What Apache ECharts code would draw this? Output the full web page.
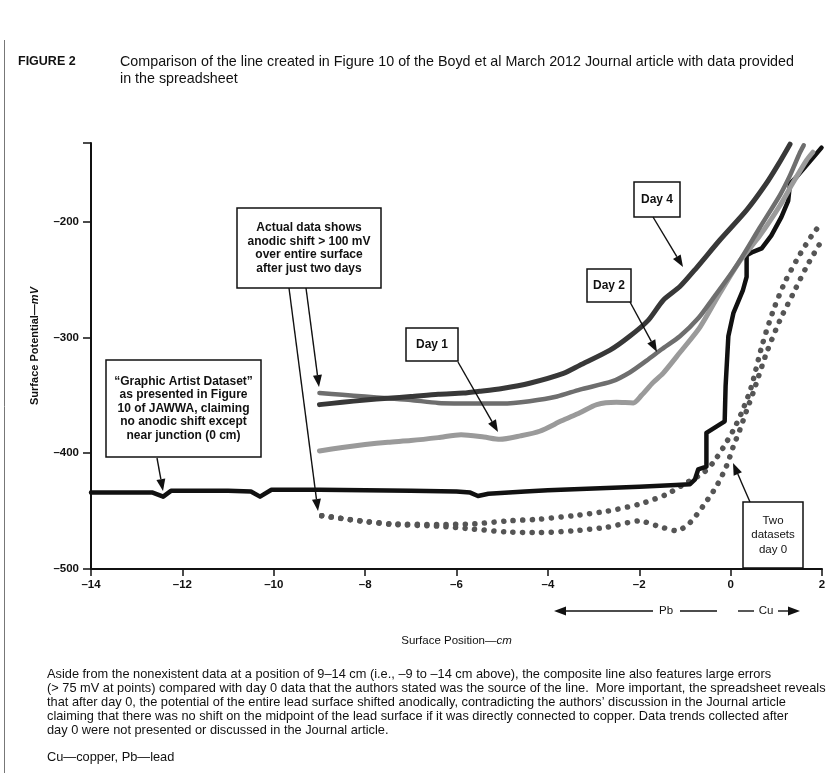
<!DOCTYPE html>
<html>
<head>
<meta charset="utf-8">
<script src="https://cdn.jsdelivr.net/npm/echarts@6/dist/echarts.min.js"></script>
<style>
html,body{margin:0;padding:0;background:#fff;}
#c{width:836px;height:773px;}
</style>
</head>
<body>
<div id="c"></div>
<script>
// ---- data (x = surface position, cm ; y = surface potential, mV) ----
const xTickValues = [-14, -12, -10, -8, -6, -4, -2, 0, 2];
const yTickValues = [-500, -400, -300, -200];

const graphicArtist = [[-14,-434],[-13,-434],[-12.65,-434],[-12.42,-437.5],[-12.25,-432.5],[-11,-432.5],[-10.5,-433],[-10.3,-437.5],[-10.05,-431.5],[-9,-431.5],[-8,-432],[-7,-432.5],[-6,-433],[-5.7,-434],[-5.53,-437],[-5.3,-435],[-4.5,-433],[-4,-432],[-3,-430.5],[-2,-429],[-1.2,-427.5],[-0.89,-426.8],[-0.78,-422.5],[-0.71,-414],[-0.53,-411.6],[-0.53,-382.4],[-0.56,-381],[-0.13,-372.4],[-0.11,-342],[-0.05,-299],[0.06,-279],[0.27,-259],[0.35,-247.6],[0.35,-229],[0.49,-226],[0.68,-223],[0.89,-212],[1.11,-196],[1.26,-182],[1.30,-167],[1.44,-161.5],[1.81,-144.4],[1.99,-136]];

const day4 = [[-9,-358],[-8.5,-356],[-8,-354],[-7.5,-352.5],[-7,-351],[-6.4,-349],[-5.85,-348],[-5.5,-346.5],[-5,-344],[-4.4,-339.5],[-3.66,-331],[-3.3,-324],[-2.64,-311],[-2.21,-299],[-1.8,-285],[-1.48,-268],[-1.11,-256],[-0.75,-240],[-0.24,-216],[0.35,-190],[0.78,-167],[1.05,-150],[1.3,-133]];

const day2 = [[-9,-348],[-8.5,-349.5],[-8,-351],[-7.5,-352.5],[-7,-354],[-6.4,-356.5],[-5.5,-357],[-5,-357],[-4.4,-355],[-3.8,-351],[-3.3,-345],[-2.6,-338],[-2.2,-330],[-1.84,-320],[-1.5,-310],[-1.11,-299],[-0.7,-283],[-0.38,-266],[0.13,-238],[0.64,-205],[1.08,-177],[1.3,-160],[1.52,-140],[1.6,-134]];

const day1 = [[-9,-398],[-8.5,-395],[-8,-392.5],[-7.5,-390.5],[-7,-389],[-6.4,-386.5],[-5.9,-384],[-5.4,-386],[-5.05,-388],[-4.6,-385],[-4.18,-381],[-3.7,-372],[-3.3,-365],[-2.93,-358],[-2.5,-356],[-2.13,-356.5],[-1.95,-350],[-1.7,-339],[-1.48,-331],[-1.11,-313],[-0.67,-291],[-0.24,-262],[0.2,-234],[0.64,-212],[1.08,-186],[1.37,-166],[1.66,-147],[1.8,-140]];

const day0A = [[-8.95,-454],[-8.1,-458.5],[-7.4,-461],[-6.4,-461.5],[-5.6,-461],[-4.9,-458.5],[-4.2,-457],[-3.45,-454],[-2.7,-450],[-2.0,-444],[-1.4,-435.5],[-0.97,-425.5],[-0.6,-417],[-0.38,-408],[-0.16,-395],[0.06,-380],[0.24,-365],[0.45,-343],[0.68,-308],[0.93,-277],[1.19,-252],[1.52,-228],[1.81,-210],[2.0,-201]];

const day0B = [[-8.95,-454],[-8.1,-458.5],[-7.4,-461.5],[-6.4,-463],[-5.64,-465.5],[-4.91,-468],[-4.18,-468.5],[-3.45,-467],[-2.72,-464],[-1.99,-458.5],[-1.62,-462.5],[-1.18,-467],[-0.89,-460],[-0.6,-445.5],[-0.31,-428.5],[-0.09,-411],[0.06,-394],[0.2,-380],[0.35,-363],[0.49,-348],[0.78,-314],[1.08,-285],[1.37,-262],[1.66,-239],[1.95,-219],[2.0,-216]];

const titleLines = ['Comparison of the line created in Figure 10 of the Boyd et al March 2012 Journal article with data provided', 'in the spreadsheet'];
const captionLines = [
 'Aside from the nonexistent data at a position of 9–14 cm (i.e., –9 to –14 cm above), the composite line also features large errors',
 '(> 75 mV at points) compared with day 0 data that the authors stated was the source of the line.  More important, the spreadsheet reveals',
 'that after day 0, the potential of the entire lead surface shifted anodically, contradicting the authors\u2019 discussion in the Journal article',
 'claiming that there was no shift on the midpoint of the lead surface if it was directly connected to copper. Data trends collected after',
 'day 0 were not presented or discussed in the Journal article.'
];

// ---- rendering ----
const FONT = '"Liberation Sans", Arial, Helvetica, sans-serif';
const chart = echarts.init(document.getElementById('c'), null, {renderer: 'canvas'});

function arrow(x1, y1, x2, y2) {
  const a = Math.atan2(y2 - y1, x2 - x1);
  const L = 12, W = 4.5;
  const bx = x2 - L * Math.cos(a), by = y2 - L * Math.sin(a);
  return [
    {type: 'line', z: 100, shape: {x1: x1, y1: y1, x2: bx, y2: by}, style: {stroke: '#111', lineWidth: 1.4}},
    {type: 'polygon', z: 100, shape: {points: [[x2, y2], [bx + W * Math.sin(a), by - W * Math.cos(a)], [bx - W * Math.sin(a), by + W * Math.cos(a)]]}, style: {fill: '#111'}}
  ];
}
function box(x, y, w, h, lines, opts) {
  opts = opts || {};
  const lh = opts.lh || 13.5;
  const out = [{type: 'rect', z: 100, shape: {x: x, y: y, width: w, height: h}, style: {fill: '#fff', stroke: '#111', lineWidth: 1.5}}];
  const cy = y + h / 2 - (lines.length - 1) * lh / 2 + (opts.dy || 0);
  lines.forEach(function (t, i) {
    out.push({type: 'text', z: 101, style: {text: t, x: x + w / 2, y: cy + i * lh, align: 'center', verticalAlign: 'middle', fill: '#111',
      font: (opts.weight || 'bold') + ' ' + (opts.size || 12) + 'px ' + FONT}});
  });
  return out;
}

let g = [];
// figure frame (left rule)
g.push({type: 'line', shape: {x1: 4.5, y1: 40, x2: 4.5, y2: 773}, style: {stroke: '#777', lineWidth: 1}});
// title
g.push({type: 'text', style: {text: 'FIGURE 2', x: 18, y: 62, verticalAlign: 'middle', fill: '#111', font: 'bold 12.5px ' + FONT}});
titleLines.forEach(function (t, i) {
  g.push({type: 'text', style: {text: t, x: 120, y: 62 + i * 17, verticalAlign: 'middle', fill: '#111', font: '14.3px ' + FONT}});
});
// y-axis title
g.push({type: 'text', x: 35, y: 346, rotation: Math.PI / 2, style: {text: '{a|Surface Potential\u2014}{i|mV}', align: 'center', verticalAlign: 'middle',
  rich: {a: {fontFamily: FONT, fontSize: 11, fontWeight: 'bold', fill: '#111'}, i: {fontFamily: FONT, fontSize: 11, fontStyle: 'italic', fontWeight: 'bold', fill: '#111'}}}});
// annotation boxes
g = g.concat(box(237, 208, 144, 80, ['Actual data shows', 'anodic shift > 100 mV', 'over entire surface', 'after just two days']));
g = g.concat(arrow(306, 288, 319, 387));
g = g.concat(arrow(289, 288, 318, 511));
g = g.concat(box(106, 360, 155, 97, ['\u201CGraphic Artist Dataset\u201D', 'as presented in Figure', '10 of JAWWA, claiming', 'no anodic shift except', 'near junction (0 cm)']));
g = g.concat(arrow(157, 458, 163, 491));
g = g.concat(box(406, 328, 52, 33, ['Day 1']));
g = g.concat(arrow(458, 362, 498, 432));
g = g.concat(box(587, 269, 44, 33, ['Day 2']));
g = g.concat(arrow(630, 302, 657, 352));
g = g.concat(box(634, 182, 46, 35, ['Day 4']));
g = g.concat(arrow(653, 217, 683, 267));
g = g.concat(box(743, 502, 60, 66, ['Two', 'datasets', 'day 0'], {weight: 'normal', size: 11.5, lh: 14.5}));
g = g.concat(arrow(750, 502, 733, 463));
// Pb / Cu arrows
g = g.concat(arrow(653, 611, 554, 611));
g.push({type: 'text', style: {text: 'Pb', x: 666, y: 611, align: 'center', verticalAlign: 'middle', fill: '#111', font: '11.5px ' + FONT}});
g.push({type: 'line', shape: {x1: 680, y1: 611, x2: 717, y2: 611}, style: {stroke: '#111', lineWidth: 1.4}});
g.push({type: 'line', shape: {x1: 738, y1: 611, x2: 754, y2: 611}, style: {stroke: '#111', lineWidth: 1.4}});
g.push({type: 'text', style: {text: 'Cu', x: 766, y: 611, align: 'center', verticalAlign: 'middle', fill: '#111', font: '11.5px ' + FONT}});
g = g.concat(arrow(778, 611, 800, 611));
// caption
captionLines.forEach(function (t, i) {
  g.push({type: 'text', style: {text: t, x: 47, y: 674 + i * 14, verticalAlign: 'middle', fill: '#111', font: '12.8px ' + FONT}});
});
g.push({type: 'text', style: {text: 'Cu\u2014copper, Pb\u2014lead', x: 47, y: 757, verticalAlign: 'middle', fill: '#111', font: '12.8px ' + FONT}});

function lineSeries(name, data, color, width, extra) {
  return Object.assign({
    name: name, type: 'line', data: data, showSymbol: false, symbol: 'none', smooth: 0.25,
    lineStyle: {color: color, width: width, cap: 'round', join: 'round'}, z: 3, animation: false
  }, extra || {});
}

const minus = function (v) { return String(v).replace('-', '\u2013'); };

chart.setOption({
  animation: false,
  backgroundColor: '#fff',
  grid: {left: 91, right: 14, top: 143, bottom: 204, containLabel: false},
  xAxis: {
    type: 'value', min: xTickValues[0], max: xTickValues[xTickValues.length - 1], interval: 2,
    axisLine: {onZero: false, lineStyle: {color: '#111', width: 2}},
    axisTick: {show: true, length: 7, lineStyle: {color: '#111', width: 1.5}},
    axisLabel: {color: '#111', fontFamily: FONT, fontWeight: 'bold', fontSize: 11.5, margin: 10, formatter: minus},
    splitLine: {show: false},
    name: '{a|Surface Position\u2014}{i|cm}', nameLocation: 'middle', nameGap: 66,
    nameTextStyle: {rich: {a: {fontFamily: FONT, fontSize: 11.5, color: '#111'}, i: {fontFamily: FONT, fontSize: 11.5, fontStyle: 'italic', color: '#111'}}}
  },
  yAxis: {
    type: 'value', min: yTickValues[0], max: -132, interval: 100,
    axisLine: {show: true, onZero: false, lineStyle: {color: '#111', width: 2}},
    axisTick: {show: true, length: 8, lineStyle: {color: '#111', width: 1.5}},
    axisLabel: {color: '#111', fontFamily: FONT, fontWeight: 'bold', fontSize: 11.5, margin: 12,
      formatter: function (v) { return yTickValues.indexOf(v) >= 0 ? minus(v) : ''; }},
    splitLine: {show: false}
  },
  series: [
    lineSeries('Day 0 (a)', day0A, '#555', 5.5, {lineStyle: {color: '#555', width: 5.5, type: [0.1, 9.5], cap: 'round'}}),
    lineSeries('Day 0 (b)', day0B, '#555', 5.5, {lineStyle: {color: '#555', width: 5.5, type: [0.1, 9.5], cap: 'round'}}),
    lineSeries('Graphic Artist Dataset', graphicArtist, '#111', 4.5, {smooth: false}),
    lineSeries('Day 1', day1, '#9a9a9a', 5),
    lineSeries('Day 2', day2, '#6e6e6e', 4.5),
    lineSeries('Day 4', day4, '#383838', 5)
  ],
  graphic: {elements: g}
});
</script>
</body>
</html>
